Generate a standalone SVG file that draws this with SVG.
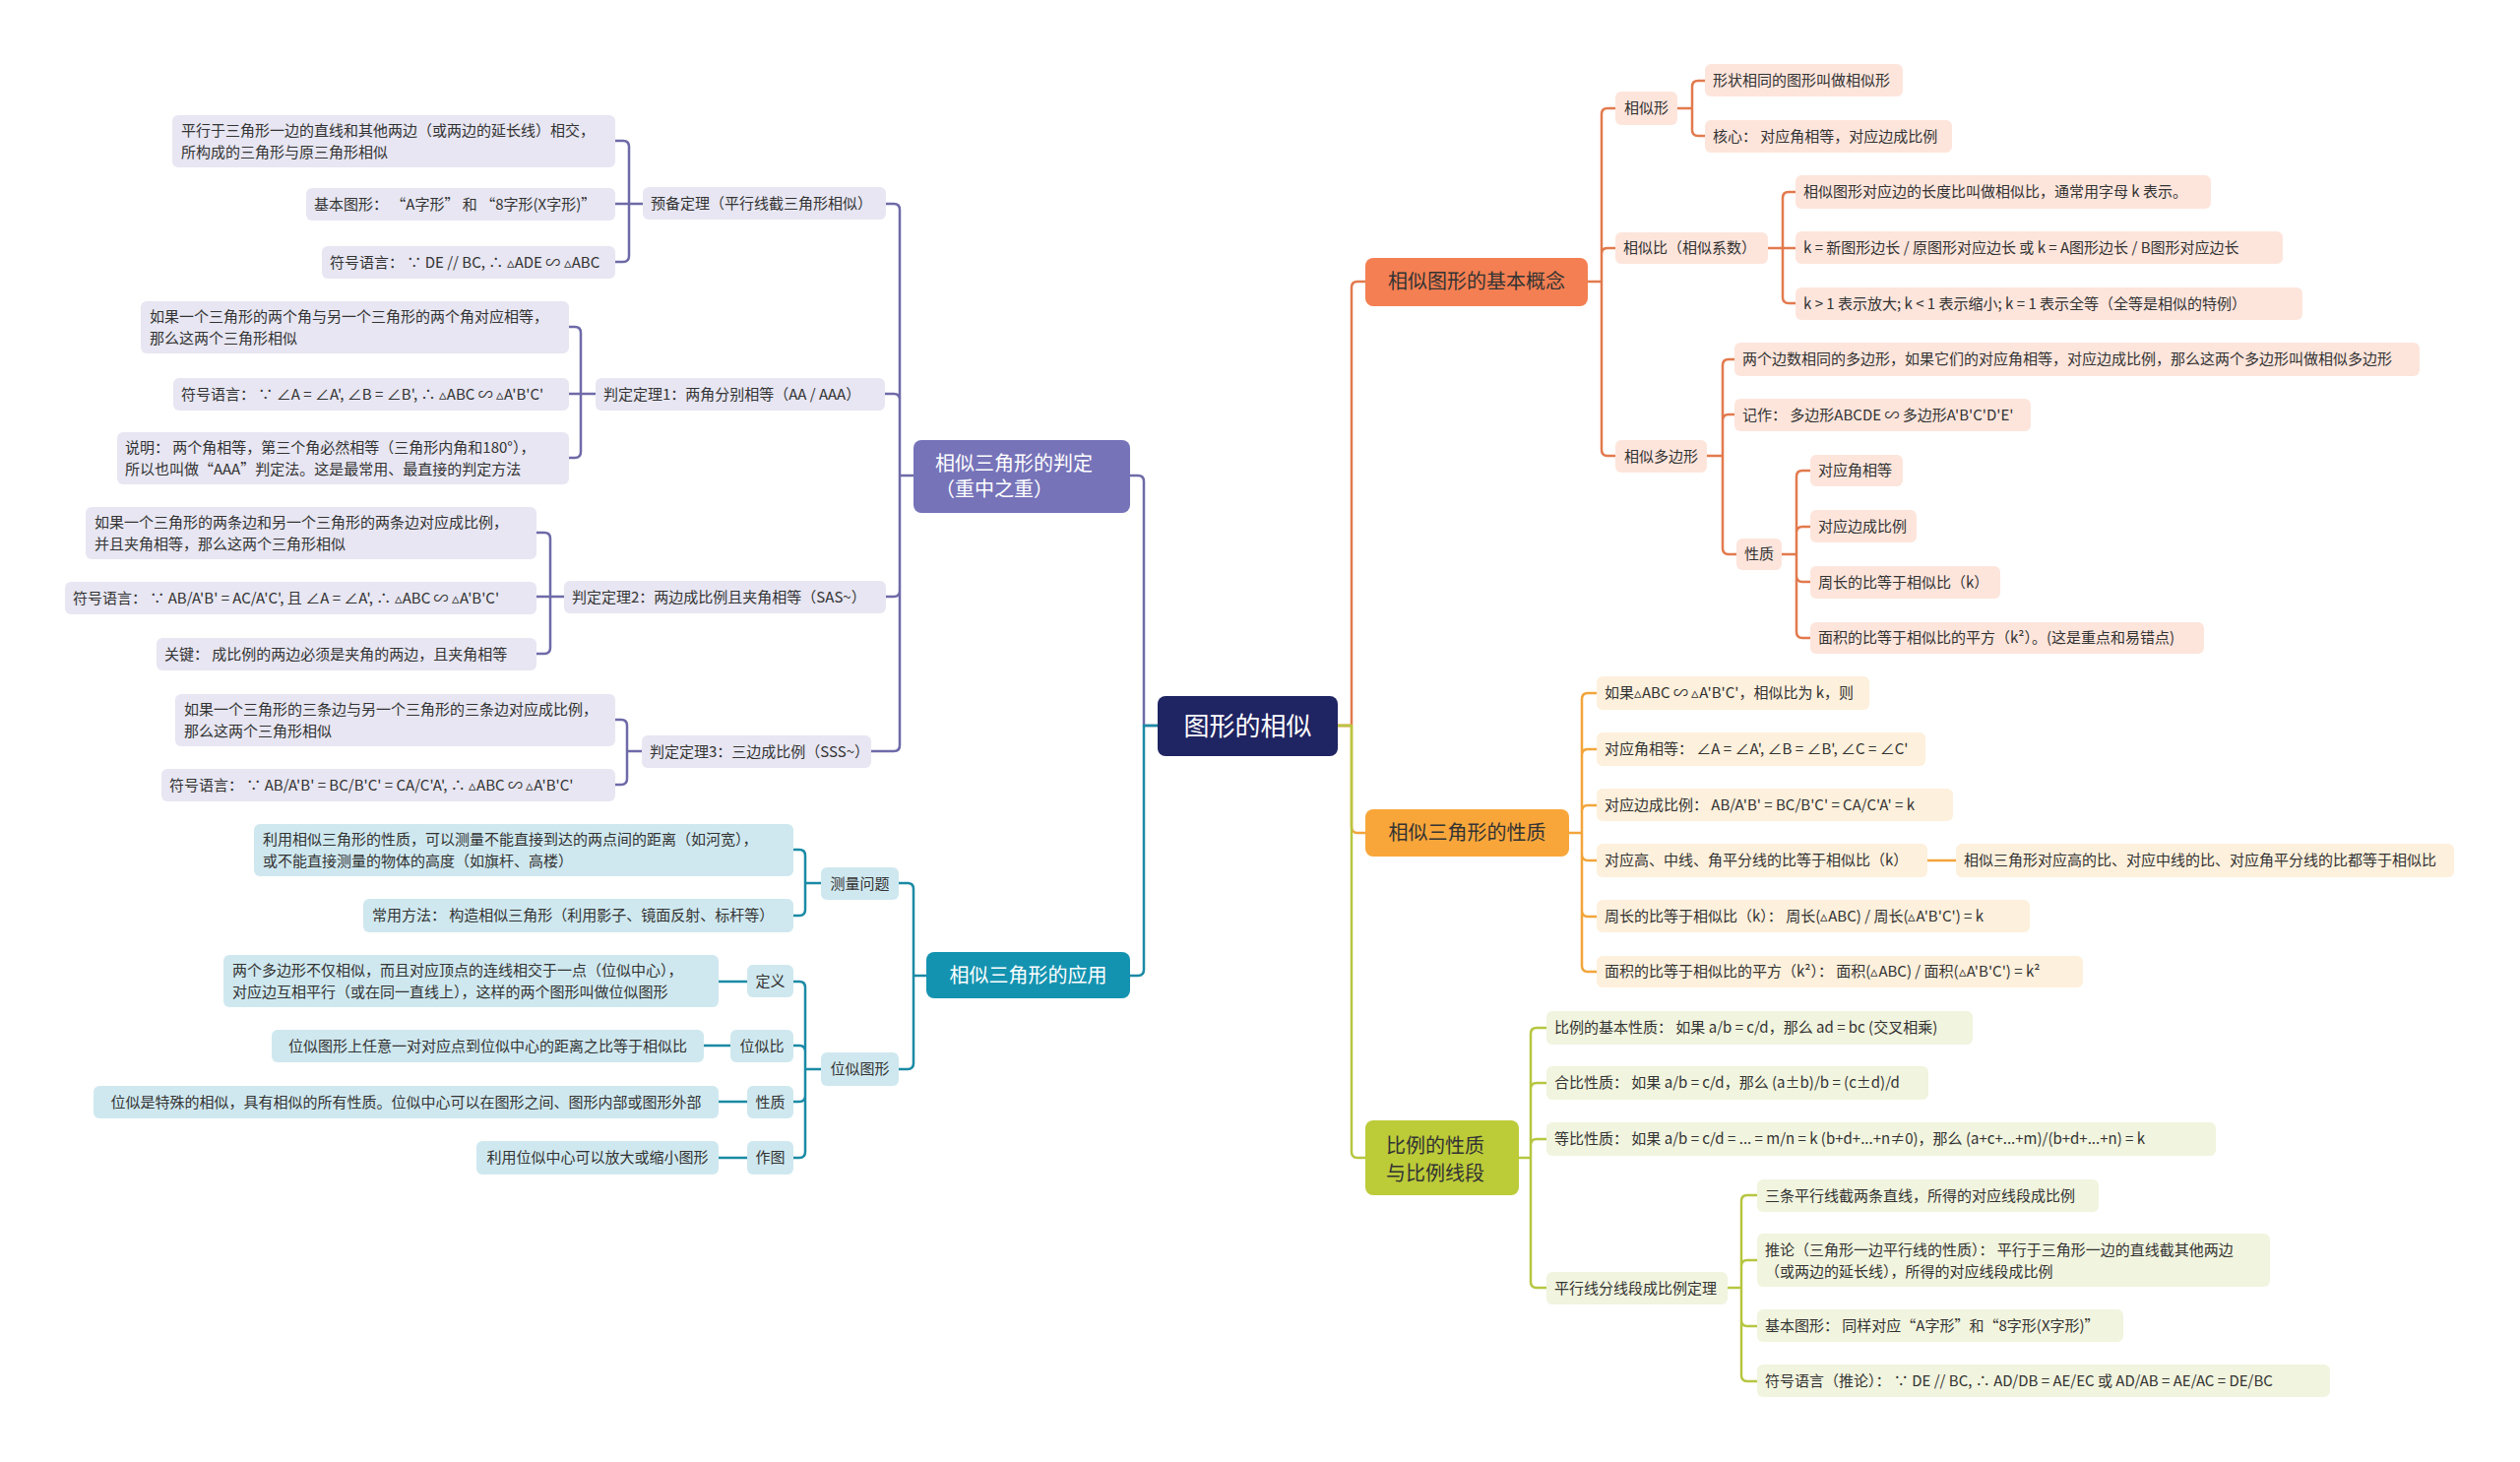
<svg xmlns="http://www.w3.org/2000/svg" width="2560" height="1485" viewBox="0 0 2560 1485">
<style>
.t{font-family:"Noto Sans CJK SC","Noto Sans",sans-serif;font-size:15px;fill:#333}
.m{text-anchor:middle}
.b{font-size:20px}
.w{fill:#fff}
.lp{fill:#e7e6f2}.lt{fill:#cfe8ef}.lo{fill:#fde5dc}.la{fill:#fdf0dc}.lg{fill:#f1f4de}
.c path{fill:none;stroke-width:2.5;stroke-linecap:round;stroke-linejoin:round}
.cp path{stroke:#6e6aa8}.ct path{stroke:#1a8aa5}.co path{stroke:#e27a4d}.ca path{stroke:#f2a53b}.cg path{stroke:#b6c640}
</style>
<rect width="2560" height="1485" fill="#fff"/>
<g id="connectors" class="c">
<g class="cp">
<path d="M1176 737H1162V489Q1162 483 1156 483H1148"/>
<path d="M928 483H914V213Q914 207 908 207H900M928 483H914V406Q914 400 908 400H899M928 483H914V600Q914 606 908 606H900M928 483H914V757Q914 763 908 763H885"/>
<path d="M653 207H639V149Q639 143 633 143H625M653 207H625M653 207H639V260Q639 266 633 266H625"/>
<path d="M605 400H590V338Q590 332 584 332H578M605 400H578M605 400H590V459Q590 465 584 465H578"/>
<path d="M573 606H559V547Q559 541 553 541H545M573 606H545M573 606H559V658Q559 664 553 664H545"/>
<path d="M652 763H637V737Q637 731 631 731H625M652 763H637V791Q637 797 631 797H625"/>
</g>
<g class="ct">
<path d="M1176 737H1162V985Q1162 991 1156 991H1148"/>
<path d="M941 991H928V903Q928 897 922 897H913M941 991H928V1080Q928 1086 922 1086H913"/>
<path d="M834 897H818V869Q818 863 812 863H806M834 897H818V924Q818 930 812 930H806"/>
<path d="M834 1086H818V1003Q818 997 812 997H806M834 1086H818V1068Q818 1062 812 1062H806M834 1086H818V1113Q818 1119 812 1119H806M834 1086H818V1170Q818 1176 812 1176H806"/>
<path d="M759 997H730M742 1062H715M759 1119H730M759 1176H730"/>
</g>
<g class="co">
<path d="M1359 737H1373V292Q1373 286 1379 286H1387"/>
<path d="M1613 286H1627V116Q1627 110 1633 110H1641M1613 286H1627V258Q1627 252 1633 252H1641M1613 286H1627V457Q1627 463 1633 463H1641"/>
<path d="M1704 110H1719V88Q1719 82 1725 82H1732M1704 110H1719V132Q1719 138 1725 138H1732"/>
<path d="M1796 252H1811V201Q1811 195 1817 195H1824M1796 252H1824M1796 252H1811V302Q1811 308 1817 308H1824"/>
<path d="M1734 463H1750V371Q1750 365 1756 365H1762M1734 463H1750V427Q1750 421 1756 421H1762M1734 463H1750V557Q1750 563 1756 563H1764"/>
<path d="M1810 563H1825V484Q1825 478 1831 478H1839M1810 563H1825V541Q1825 535 1831 535H1839M1810 563H1825V585Q1825 591 1831 591H1839M1810 563H1825V642Q1825 648 1831 648H1839"/>
</g>
<g class="ca">
<path d="M1359 737H1373V840Q1373 846 1379 846H1387"/>
<path d="M1594 846H1607V710Q1607 704 1613 704H1622M1594 846H1607V767Q1607 761 1613 761H1622M1594 846H1607V824Q1607 818 1613 818H1622M1594 846H1607V868Q1607 874 1613 874H1622M1594 846H1607V925Q1607 931 1613 931H1622M1594 846H1607V981Q1607 987 1613 987H1622"/>
<path d="M1958 874H1987"/>
</g>
<g class="cg">
<path d="M1359 737H1373V1170Q1373 1176 1379 1176H1387"/>
<path d="M1543 1176H1555V1050Q1555 1044 1561 1044H1571M1543 1176H1555V1106Q1555 1100 1561 1100H1571M1543 1176H1555V1163Q1555 1157 1561 1157H1571M1543 1176H1555V1302Q1555 1308 1561 1308H1571"/>
<path d="M1755 1308H1769V1220Q1769 1214 1775 1214H1785M1755 1308H1769V1286Q1769 1280 1775 1280H1785M1755 1308H1769V1341Q1769 1347 1775 1347H1785M1755 1308H1769V1397Q1769 1403 1775 1403H1785"/>
</g>
</g>

<g id="root"><rect x="1176" y="707" width="183" height="61" rx="8" fill="#1f2462"/><text class="t m w" x="1267.5" y="747" style="font-size:26px">图形的相似</text></g>

<g id="n-judge"><rect x="928" y="447" width="220" height="74" rx="8" fill="#7673b9"/><text class="t b w" x="950" y="478">相似三角形的判定</text><text class="t b w" x="950" y="504">（重中之重）</text></g>
<g id="n-pre"><rect class="lp" x="653" y="190" width="247" height="33" rx="6"/><text class="t" x="661" y="212">预备定理（平行线截三角形相似）</text></g>
<g id="n-pre1"><rect class="lp" x="175" y="117" width="450" height="53" rx="6"/><text class="t" x="184" y="138">平行于三角形一边的直线和其他两边（或两边的延长线）相交，</text><text class="t" x="184" y="160">所构成的三角形与原三角形相似</text></g>
<g id="n-pre2"><rect class="lp" x="311" y="191" width="314" height="33" rx="6"/><text class="t" x="319" y="213">基本图形： “A字形” 和 “8字形(X字形)”</text></g>
<g id="n-pre3"><rect class="lp" x="327" y="250" width="298" height="33" rx="6"/><text class="t" x="335" y="272">符号语言： ∵ DE // BC, ∴ ▵ADE ∽ ▵ABC</text></g>
<g id="n-th1"><rect class="lp" x="605" y="384" width="294" height="33" rx="6"/><text class="t" x="613" y="406">判定定理1：两角分别相等（AA / AAA）</text></g>
<g id="n-th1a"><rect class="lp" x="143" y="306" width="435" height="53" rx="6"/><text class="t" x="152" y="327">如果一个三角形的两个角与另一个三角形的两个角对应相等，</text><text class="t" x="152" y="349">那么这两个三角形相似</text></g>
<g id="n-th1b"><rect class="lp" x="176" y="384" width="402" height="33" rx="6"/><text class="t" x="184" y="406">符号语言： ∵ ∠A = ∠A', ∠B = ∠B', ∴ ▵ABC ∽ ▵A'B'C'</text></g>
<g id="n-th1c"><rect class="lp" x="119" y="439" width="459" height="53" rx="6"/><text class="t" x="127" y="460">说明： 两个角相等，第三个角必然相等（三角形内角和180°），</text><text class="t" x="127" y="482">所以也叫做“AAA”判定法。这是最常用、最直接的判定方法</text></g>
<g id="n-th2"><rect class="lp" x="573" y="590" width="327" height="33" rx="6"/><text class="t" x="581" y="612">判定定理2：两边成比例且夹角相等（SAS~）</text></g>
<g id="n-th2a"><rect class="lp" x="87" y="515" width="458" height="53" rx="6"/><text class="t" x="96" y="536">如果一个三角形的两条边和另一个三角形的两条边对应成比例，</text><text class="t" x="96" y="558">并且夹角相等，那么这两个三角形相似</text></g>
<g id="n-th2b"><rect class="lp" x="66" y="591" width="479" height="33" rx="6"/><text class="t" x="74" y="613">符号语言： ∵ AB/A'B' = AC/A'C', 且 ∠A = ∠A', ∴ ▵ABC ∽ ▵A'B'C'</text></g>
<g id="n-th2c"><rect class="lp" x="159" y="648" width="386" height="33" rx="6"/><text class="t" x="167" y="670">关键： 成比例的两边必须是夹角的两边，且夹角相等</text></g>
<g id="n-th3"><rect class="lp" x="652" y="747" width="233" height="33" rx="6"/><text class="t" x="660" y="769">判定定理3：三边成比例（SSS~）</text></g>
<g id="n-th3a"><rect class="lp" x="178" y="705" width="447" height="53" rx="6"/><text class="t" x="187" y="726">如果一个三角形的三条边与另一个三角形的三条边对应成比例，</text><text class="t" x="187" y="748">那么这两个三角形相似</text></g>
<g id="n-th3b"><rect class="lp" x="164" y="781" width="461" height="33" rx="6"/><text class="t" x="172" y="803">符号语言： ∵ AB/A'B' = BC/B'C' = CA/C'A', ∴ ▵ABC ∽ ▵A'B'C'</text></g>

<g id="n-app"><rect x="941" y="967" width="207" height="47" rx="8" fill="#1493b0"/><text class="t b m w" x="1044.5" y="998">相似三角形的应用</text></g>
<g id="n-meas"><rect class="lt" x="834" y="881" width="79" height="33" rx="6"/><text class="t m" x="873.5" y="903">测量问题</text></g>
<g id="n-meas1"><rect class="lt" x="258" y="837" width="548" height="53" rx="6"/><text class="t" x="267" y="858">利用相似三角形的性质，可以测量不能直接到达的两点间的距离（如河宽），</text><text class="t" x="267" y="880">或不能直接测量的物体的高度（如旗杆、高楼）</text></g>
<g id="n-meas2"><rect class="lt" x="369" y="913" width="437" height="34" rx="6"/><text class="t" x="378" y="935">常用方法： 构造相似三角形（利用影子、镜面反射、标杆等）</text></g>
<g id="n-homo"><rect class="lt" x="834" y="1069" width="79" height="34" rx="6"/><text class="t m" x="873.5" y="1091">位似图形</text></g>
<g id="n-def"><rect class="lt" x="759" y="980" width="47" height="33" rx="6"/><text class="t m" x="782.5" y="1002">定义</text></g>
<g id="n-def1"><rect class="lt" x="227" y="970" width="503" height="53" rx="6"/><text class="t" x="236" y="991">两个多边形不仅相似，而且对应顶点的连线相交于一点（位似中心），</text><text class="t" x="236" y="1013">对应边互相平行（或在同一直线上），这样的两个图形叫做位似图形</text></g>
<g id="n-ratio"><rect class="lt" x="742" y="1046" width="64" height="33" rx="6"/><text class="t m" x="774" y="1068">位似比</text></g>
<g id="n-ratio1"><rect class="lt" x="276" y="1046" width="439" height="33" rx="6"/><text class="t m" x="495.5" y="1068">位似图形上任意一对对应点到位似中心的距离之比等于相似比</text></g>
<g id="n-prop"><rect class="lt" x="759" y="1103" width="47" height="33" rx="6"/><text class="t m" x="782.5" y="1125">性质</text></g>
<g id="n-prop1"><rect class="lt" x="95" y="1103" width="635" height="33" rx="6"/><text class="t m" x="412.5" y="1125">位似是特殊的相似，具有相似的所有性质。位似中心可以在图形之间、图形内部或图形外部</text></g>
<g id="n-draw"><rect class="lt" x="759" y="1159" width="47" height="34" rx="6"/><text class="t m" x="782.5" y="1181">作图</text></g>
<g id="n-draw1"><rect class="lt" x="484" y="1159" width="246" height="34" rx="6"/><text class="t m" x="607" y="1181">利用位似中心可以放大或缩小图形</text></g>

<g id="n-basic"><rect x="1387" y="262" width="226" height="49" rx="8" fill="#f47f52"/><text class="t b m" x="1500" y="293">相似图形的基本概念</text></g>
<g id="n-sim"><rect class="lo" x="1641" y="93" width="63" height="34" rx="6"/><text class="t m" x="1672.5" y="115">相似形</text></g>
<g id="n-sim1"><rect class="lo" x="1732" y="65" width="201" height="33" rx="6"/><text class="t" x="1740" y="87">形状相同的图形叫做相似形</text></g>
<g id="n-sim2"><rect class="lo" x="1732" y="122" width="251" height="33" rx="6"/><text class="t" x="1740" y="144">核心： 对应角相等，对应边成比例</text></g>
<g id="n-k"><rect class="lo" x="1641" y="236" width="155" height="32" rx="6"/><text class="t" x="1649" y="257">相似比（相似系数）</text></g>
<g id="n-k1"><rect class="lo" x="1824" y="178" width="422" height="34" rx="6"/><text class="t" x="1832" y="200">相似图形对应边的长度比叫做相似比，通常用字母 k 表示。</text></g>
<g id="n-k2"><rect class="lo" x="1824" y="235" width="495" height="33" rx="6"/><text class="t" x="1832" y="257">k = 新图形边长 / 原图形对应边长 或 k = A图形边长 / B图形对应边长</text></g>
<g id="n-k3"><rect class="lo" x="1824" y="292" width="515" height="33" rx="6"/><text class="t" x="1832" y="314">k &gt; 1 表示放大; k &lt; 1 表示缩小; k = 1 表示全等（全等是相似的特例）</text></g>
<g id="n-poly"><rect class="lo" x="1641" y="447" width="93" height="33" rx="6"/><text class="t m" x="1687.5" y="469">相似多边形</text></g>
<g id="n-poly1"><rect class="lo" x="1762" y="348" width="696" height="34" rx="6"/><text class="t" x="1770" y="370">两个边数相同的多边形，如果它们的对应角相等，对应边成比例，那么这两个多边形叫做相似多边形</text></g>
<g id="n-poly2"><rect class="lo" x="1762" y="405" width="301" height="33" rx="6"/><text class="t" x="1770" y="427">记作： 多边形ABCDE ∽ 多边形A'B'C'D'E'</text></g>
<g id="n-poly3"><rect class="lo" x="1764" y="547" width="46" height="32" rx="6"/><text class="t m" x="1787" y="568">性质</text></g>
<g id="n-pp1"><rect class="lo" x="1839" y="462" width="94" height="32" rx="6"/><text class="t" x="1847" y="483">对应角相等</text></g>
<g id="n-pp2"><rect class="lo" x="1839" y="518" width="108" height="33" rx="6"/><text class="t" x="1847" y="540">对应边成比例</text></g>
<g id="n-pp3"><rect class="lo" x="1839" y="575" width="193" height="33" rx="6"/><text class="t" x="1847" y="597">周长的比等于相似比（k）</text></g>
<g id="n-pp4"><rect class="lo" x="1839" y="632" width="400" height="32" rx="6"/><text class="t" x="1847" y="653">面积的比等于相似比的平方（k²）。(这是重点和易错点)</text></g>

<g id="n-tri"><rect x="1387" y="822" width="207" height="48" rx="8" fill="#f8a63a"/><text class="t b m" x="1490.5" y="853">相似三角形的性质</text></g>
<g id="n-tri1"><rect class="la" x="1622" y="687" width="277" height="34" rx="6"/><text class="t" x="1630" y="709">如果▵ABC ∽ ▵A'B'C'，相似比为 k，则</text></g>
<g id="n-tri2"><rect class="la" x="1622" y="744" width="334" height="34" rx="6"/><text class="t" x="1630" y="766">对应角相等： ∠A = ∠A', ∠B = ∠B', ∠C = ∠C'</text></g>
<g id="n-tri3"><rect class="la" x="1622" y="801" width="362" height="33" rx="6"/><text class="t" x="1630" y="823">对应边成比例： AB/A'B' = BC/B'C' = CA/C'A' = k</text></g>
<g id="n-tri4"><rect class="la" x="1622" y="857" width="336" height="34" rx="6"/><text class="t" x="1630" y="879">对应高、中线、角平分线的比等于相似比（k）</text></g>
<g id="n-tri4a"><rect class="la" x="1987" y="857" width="506" height="34" rx="6"/><text class="t" x="1995" y="879">相似三角形对应高的比、对应中线的比、对应角平分线的比都等于相似比</text></g>
<g id="n-tri5"><rect class="la" x="1622" y="914" width="440" height="33" rx="6"/><text class="t" x="1630" y="936">周长的比等于相似比（k）： 周长(▵ABC) / 周长(▵A'B'C') = k</text></g>
<g id="n-tri6"><rect class="la" x="1622" y="971" width="494" height="32" rx="6"/><text class="t" x="1630" y="992">面积的比等于相似比的平方（k²）： 面积(▵ABC) / 面积(▵A'B'C') = k²</text></g>

<g id="n-prop-seg"><rect x="1387" y="1138" width="156" height="76" rx="8" fill="#bccb38"/><text class="t b" x="1408" y="1171">比例的性质</text><text class="t b" x="1408" y="1199">与比例线段</text></g>
<g id="n-g1"><rect class="lg" x="1571" y="1027" width="433" height="34" rx="6"/><text class="t" x="1579" y="1049">比例的基本性质： 如果 a/b = c/d，那么 ad = bc (交叉相乘)</text></g>
<g id="n-g2"><rect class="lg" x="1571" y="1083" width="388" height="34" rx="6"/><text class="t" x="1579" y="1105">合比性质： 如果 a/b = c/d，那么 (a±b)/b = (c±d)/d</text></g>
<g id="n-g3"><rect class="lg" x="1571" y="1140" width="680" height="34" rx="6"/><text class="t" x="1579" y="1162">等比性质： 如果 a/b = c/d = ... = m/n = k (b+d+...+n≠0)，那么 (a+c+...+m)/(b+d+...+n) = k</text></g>
<g id="n-g4"><rect class="lg" x="1571" y="1292" width="184" height="33" rx="6"/><text class="t" x="1579" y="1314">平行线分线段成比例定理</text></g>
<g id="n-g4a"><rect class="lg" x="1785" y="1198" width="347" height="33" rx="6"/><text class="t" x="1793" y="1220">三条平行线截两条直线，所得的对应线段成比例</text></g>
<g id="n-g4b"><rect class="lg" x="1785" y="1253" width="521" height="54" rx="6"/><text class="t" x="1793" y="1275">推论（三角形一边平行线的性质）： 平行于三角形一边的直线截其他两边</text><text class="t" x="1793" y="1297">（或两边的延长线），所得的对应线段成比例</text></g>
<g id="n-g4c"><rect class="lg" x="1785" y="1330" width="372" height="33" rx="6"/><text class="t" x="1793" y="1352">基本图形： 同样对应“A字形”和“8字形(X字形)”</text></g>
<g id="n-g4d"><rect class="lg" x="1785" y="1386" width="582" height="33" rx="6"/><text class="t" x="1793" y="1408">符号语言（推论）： ∵ DE // BC, ∴ AD/DB = AE/EC 或 AD/AB = AE/AC = DE/BC</text></g>
</svg>
